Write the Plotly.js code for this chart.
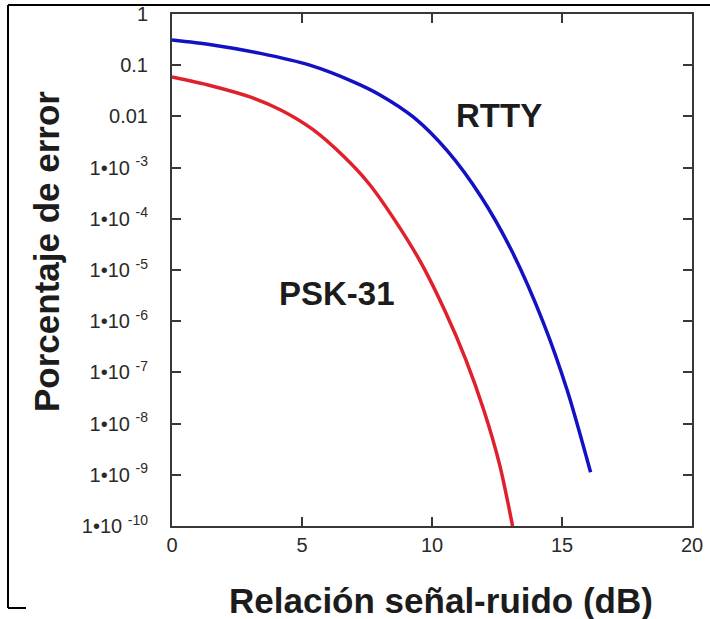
<!DOCTYPE html>
<html>
<head>
<meta charset="utf-8">
<script src="https://cdn.plot.ly/plotly-3.0.1.min.js"></script>
<style>
html,body{margin:0;padding:0;background:#fff;}
#chart{width:710px;height:619px;}
</style>
</head>
<body>
<div id="chart"></div>
<script>
// RTTY curve (SNR dB, error rate)
const rttySnr = [0, 1.5, 3.4, 5.3, 7.0, 8.0, 9.3, 10.6, 11.9, 13.1, 14.3, 15.2, 16.1];
const rttyErr = [0.309, 0.251, 0.170, 0.100, 0.0468, 0.0263, 9.55e-3, 2.09e-3, 2.63e-4, 2.19e-5, 8.9e-7, 4.47e-8, 1.12e-9];
// PSK-31 curve
const pskSnr = [0, 1.5, 3.0, 4.2, 5.4, 6.6, 7.6, 8.6, 9.6, 10.5, 11.3, 12.0, 12.6, 13.1];
const pskErr = [0.0589, 0.0398, 0.0240, 0.0132, 5.62e-3, 1.66e-3, 4.68e-4, 8.9e-5, 1.32e-5, 1.58e-6, 1.78e-7, 1.78e-8, 1.58e-9, 1.0e-10];
// y tick labels
const yTickVals = [1, 0.1, 0.01, 1e-3, 1e-4, 1e-5, 1e-6, 1e-7, 1e-8, 1e-9, 1e-10];
const yTickText = ['1', '0.1', '0.01', '1•10 <sup>-3</sup>', '1•10 <sup>-4</sup>', '1•10 <sup>-5</sup>',
  '1•10 <sup>-6</sup>', '1•10 <sup>-7</sup>', '1•10 <sup>-8</sup>', '1•10 <sup>-9</sup>', '1•10 <sup>-10</sup>'];
const xTickVals = [0, 5, 10, 15, 20];
const seriesLabels = ['RTTY', 'PSK-31'];
const xTitle = 'Relación señal-ruido (dB)';
const yTitle = 'Porcentaje de error';

const font = 'Liberation Sans, Arial, sans-serif';
const axisCol = '#383838';

const traces = [
  {x: rttySnr, y: rttyErr, name: seriesLabels[0], mode: 'lines', type: 'scatter',
   line: {color: '#1212c4', width: 3.5, shape: 'spline', smoothing: 0.8}},
  {x: pskSnr, y: pskErr, name: seriesLabels[1], mode: 'lines', type: 'scatter',
   line: {color: '#e0202c', width: 3.5, shape: 'spline', smoothing: 0.8}}
];

function px2x(px){ return (px - 172) / 520; }
function py2y(py){ return (526 - py) / 512; }

const labelFont = {size: 33, family: font, weight: 700, color: '#1c1c1c'};
const titleFont = {size: 35, family: font, weight: 700, color: '#1c1c1c'};

const layout = {
  width: 710, height: 619,
  margin: {l: 172, r: 18, t: 14, b: 93},
  paper_bgcolor: '#ffffff', plot_bgcolor: '#ffffff',
  showlegend: false,
  font: {family: font, color: '#222'},
  xaxis: {
    range: [0, 20], tickvals: xTickVals, ticktext: xTickVals.map(String),
    showgrid: false, zeroline: false, showline: true, linecolor: axisCol, linewidth: 2,
    mirror: 'ticks', ticks: 'inside', ticklen: 9, tickwidth: 2, tickcolor: axisCol,
    tickfont: {size: 20, family: font, color: '#2a2a2a'}
  },
  yaxis: {
    type: 'log', range: [-10, 0], tickvals: yTickVals, ticktext: yTickText,
    showgrid: false, zeroline: false, showline: true, linecolor: axisCol, linewidth: 2,
    mirror: 'ticks', ticks: 'inside', ticklen: 9, tickwidth: 2, tickcolor: axisCol,
    tickfont: {size: 20, family: font, color: '#2a2a2a'}, ticklabelstandoff: 18
  },
  annotations: [
    {text: seriesLabels[0], x: 499, y: 115, xref: 'paper', yref: 'paper', showarrow: false,
     xanchor: 'center', yanchor: 'middle', font: labelFont},
    {text: seriesLabels[1], x: 337, y: 293, xref: 'paper', yref: 'paper', showarrow: false,
     xanchor: 'center', yanchor: 'middle', font: labelFont},
    {text: xTitle, x: 441, y: 600, xref: 'paper', yref: 'paper', showarrow: false,
     xanchor: 'center', yanchor: 'middle', font: titleFont},
    {text: yTitle, x: 46, y: 252, xref: 'paper', yref: 'paper', showarrow: false,
     xanchor: 'center', yanchor: 'middle', textangle: -90, font: titleFont}
  ],
  shapes: [
    {type: 'line', xref: 'paper', yref: 'paper', x0: px2x(8), x1: px2x(710), y0: py2y(5), y1: py2y(5), line: {color: '#000', width: 2}},
    {type: 'line', xref: 'paper', yref: 'paper', x0: px2x(8), x1: px2x(8), y0: py2y(5), y1: py2y(608), line: {color: '#000', width: 2}},
    {type: 'line', xref: 'paper', yref: 'paper', x0: px2x(8), x1: px2x(26), y0: py2y(608), y1: py2y(608), line: {color: '#000', width: 2}}
  ]
};
layout.annotations.forEach(a => { a.x = px2x(a.x); a.y = py2y(a.y); });

Plotly.newPlot('chart', traces, layout, {displayModeBar: false, staticPlot: true});
</script>
</body>
</html>
